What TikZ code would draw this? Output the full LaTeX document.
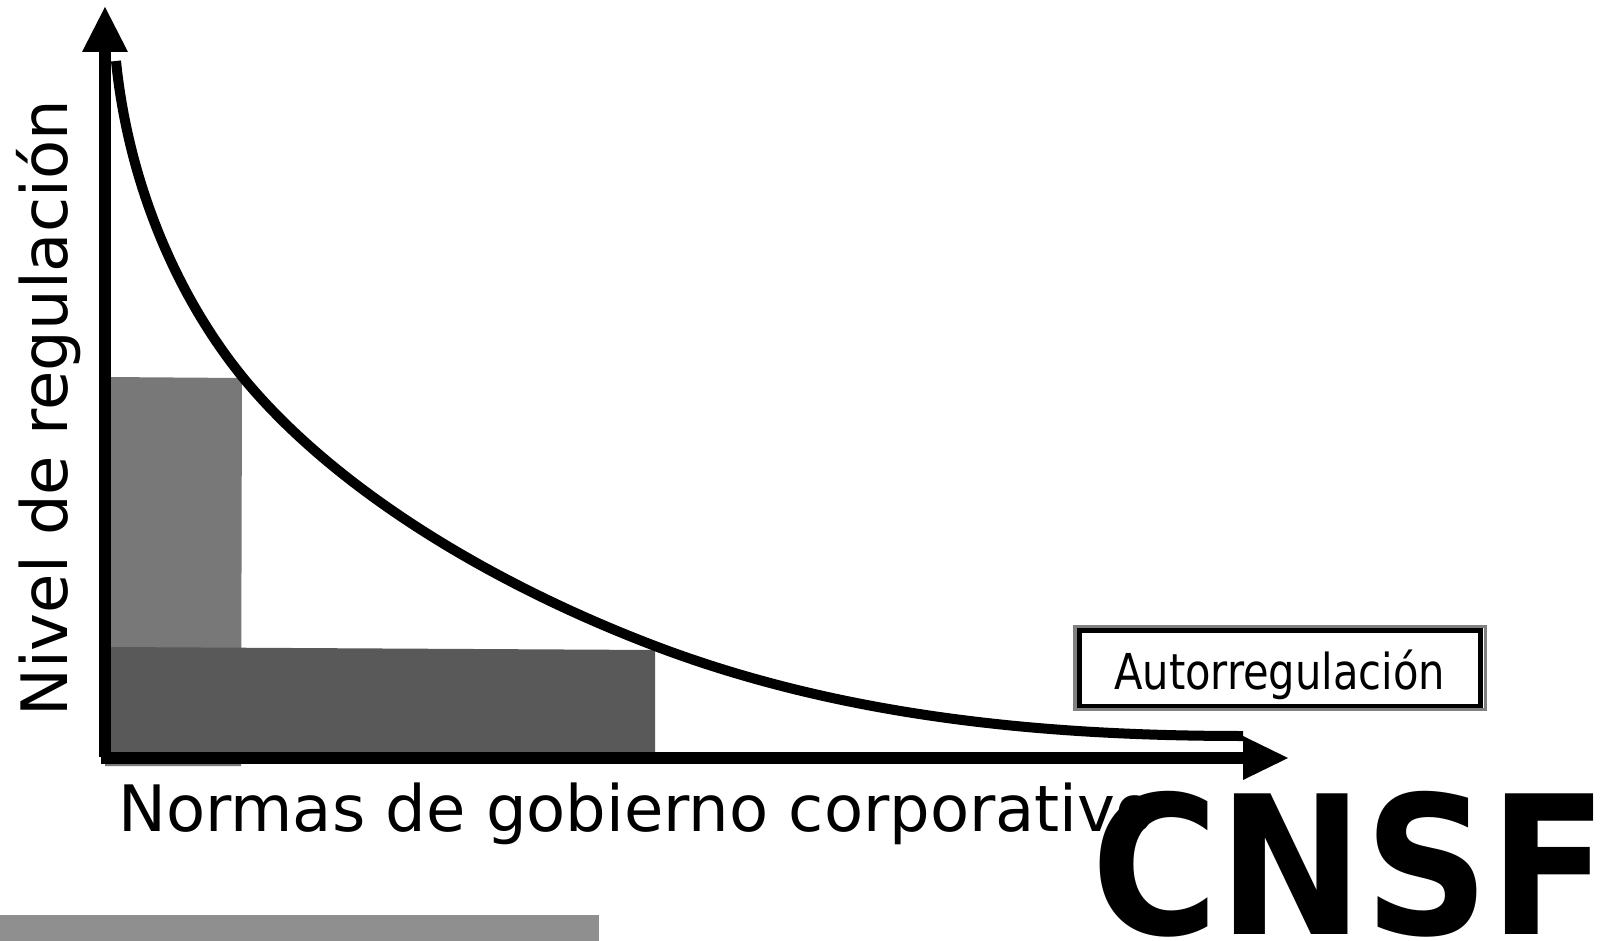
\documentclass[tikz,border=0pt]{standalone}
\usepackage{fontspec}
\usepackage{graphicx}
\setmainfont{DejaVu Sans}
\newfontfamily\condfont{DejaVu Sans Condensed}
\definecolor{graylight}{HTML}{787878}
\definecolor{graydark}{HTML}{595959}
\definecolor{graybar}{HTML}{8F8F8F}
\definecolor{grayframe}{HTML}{808080}
\begin{document}
\begin{tikzpicture}[x=1pt,y=-1pt,
  axisline/.style={line width=12pt},
  curveline/.style={line width=10pt},
  labeltext/.style={inner sep=0pt,font=\fontsize{64}{70}\selectfont},
  autobox/.style={draw=black,line width=4.5pt,fill=white,minimum width=401pt,minimum height=75.5pt,inner sep=0pt},
  autotext/.style={inner sep=0pt,font=\condfont\fontsize{49.5}{55}\selectfont},
  logotext/.style={inner sep=0pt,font=\bfseries\fontsize{193}{200}\selectfont}]
\useasboundingbox (0,0) rectangle (1604,941);
% bars
\fill[graylight] (105,377) -- (242,378) -- (241,766) -- (105,766) -- cycle;
\fill[graydark] (111,647) -- (655,650) -- (655,752) -- (111,752) -- cycle;
\fill[graybar] (0,915) rectangle (599,941);
% axes
\draw[axisline] (105,757) -- (105,50);
\fill (105,7) -- (128,52) -- (82,52) -- cycle;
\draw[axisline] (101,758) -- (1245,758);
\fill (1288,758) -- (1243,780) -- (1243,736) -- cycle;
% curve
\draw[curveline] (116,61) .. controls (128,180) and (175,295) .. (245,380)
  .. controls (335,488) and (487,582) .. (655,646)
  .. controls (842,717) and (1043,736) .. (1243,736);
% labels
\node[labeltext,rotate=90,anchor=base west] (ylabel) at (67.5,717) {Nivel de regulación};
\node[labeltext,anchor=base west] (xlabel) at (118,831) {Normas de gobierno corporativo};
% Autorregulacion box
\draw[grayframe,line width=3.5pt] (1075,626.5) rectangle (1485.5,709.5);
\node[autobox] (box) at (1280,668.25) {};
\node[autotext,anchor=base west] (autolabel) at (1114,689) {\scalebox{0.935}[1]{Autorregulación}};
% logo
\node[logotext,anchor=base west] (logo) at (1091,934) {\scalebox{0.9}[1]{CNSF}};
\end{tikzpicture}
\end{document}
